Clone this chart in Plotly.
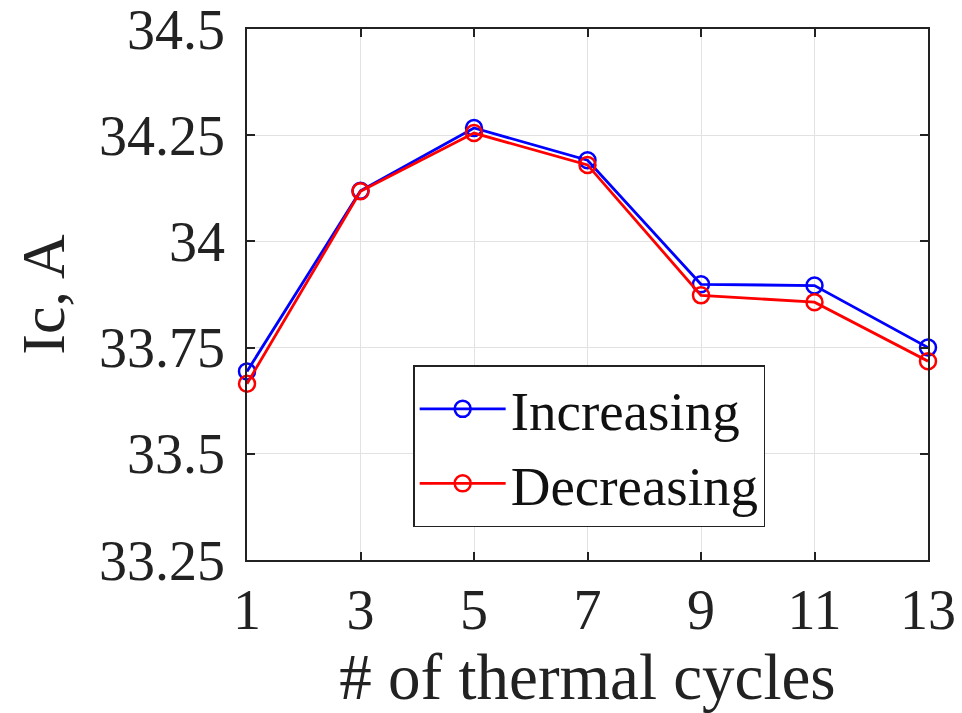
import plotly.graph_objects as go

cycles = [1, 3, 5, 7, 9, 11, 13]
increasing = [33.694, 34.119, 34.267, 34.191, 33.899, 33.896, 33.750]
decreasing = [33.665, 34.118, 34.255, 34.180, 33.873, 33.857, 33.718]
y_ticks = [33.25, 33.5, 33.75, 34, 34.25, 34.5]
y_ticktext = ["33.25", "33.5", "33.75", "34", "34.25", "34.5"]
x_ticks = [1, 3, 5, 7, 9, 11, 13]

FONT = "Liberation Serif"

fig = go.Figure()
fig.add_trace(go.Scatter(
    x=cycles, y=increasing, name="Increasing", mode="lines+markers",
    line=dict(color="#0000ff", width=2.8),
    marker=dict(symbol="circle-open", size=16, line=dict(width=2.5, color="#0000ff")),
    cliponaxis=False,
))
fig.add_trace(go.Scatter(
    x=cycles, y=decreasing, name="Decreasing", mode="lines+markers",
    line=dict(color="#ff0000", width=2.8),
    marker=dict(symbol="circle-open", size=16, line=dict(width=2.5, color="#ff0000")),
    cliponaxis=False,
))

axis_common = dict(
    showline=True, linecolor="#222222", linewidth=1.5, mirror="ticks",
    ticks="inside", ticklen=8, tickcolor="#222222", tickwidth=1.5,
    showgrid=True, gridcolor="#e2e2e2", gridwidth=1,
    zeroline=False, automargin=False,
    tickfont=dict(family=FONT, size=56, color="#222222"),
    ticklabeloverflow="allow",
)

fig.update_xaxes(
    range=[1, 13], tickvals=x_ticks, ticktext=[str(v) for v in x_ticks],
    title=dict(text="# of thermal cycles", font=dict(family=FONT, size=65, color="#222222"), standoff=22),
    ticklabelstandoff=0,
    **axis_common,
)
fig.update_yaxes(
    range=[33.25, 34.5], tickvals=y_ticks, ticktext=y_ticktext,
    title=dict(text="Ic, A", font=dict(family=FONT, size=62, color="#222222"), standoff=14),
    ticklabelstandoff=9,
    **axis_common,
)

fig.update_layout(
    width=954, height=705,
    margin=dict(l=239, r=34, t=21, b=153),
    paper_bgcolor="white", plot_bgcolor="white",
    showlegend=True,
    legend=dict(
        x=0.244, y=0.367, xanchor="left", yanchor="top",
        bgcolor="white", bordercolor="#222222", borderwidth=1.5,
        font=dict(family=FONT, size=55, color="#111111"),
        itemwidth=86, tracegroupgap=0,
    ),
)

fig.write_html("out.html")
